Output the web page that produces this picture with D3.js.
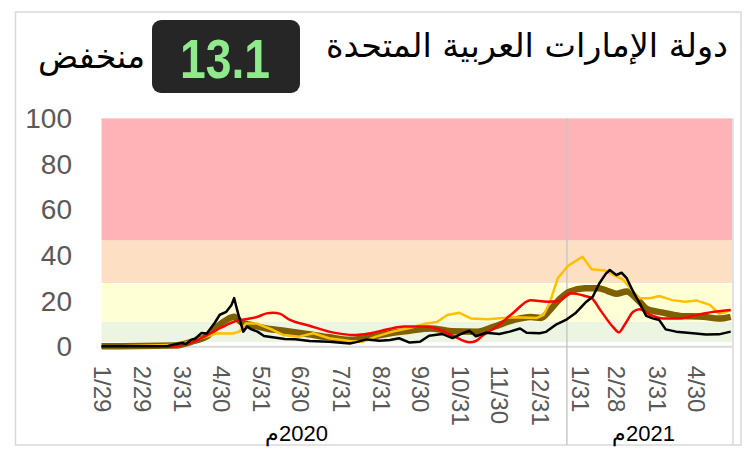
<!DOCTYPE html>
<html>
<head>
<meta charset="utf-8">
<script src="https://cdn.jsdelivr.net/npm/d3@7"></script>
<style>
	body { margin: 0; background: #fff; }
	svg { display: block; }
</style>
</head>
<body>
<div id="chart"></div>
<script>
(function (){
	"use strict";

// DATA
var title = "دولة الإمارات العربية  المتحدة",
	levelText = "منخفض",
	currentValue = "13.1";

var yTicks = [0, 20, 40, 60, 80, 100];
var tickDates = ["2020-01-29", "2020-02-29", "2020-03-31", "2020-04-30", "2020-05-31", "2020-06-30",
	"2020-07-31", "2020-08-31", "2020-09-30", "2020-10-31", "2020-11-30", "2020-12-31",
	"2021-01-31", "2021-02-28", "2021-03-31", "2021-04-30"];
var yearLabels = ["2020م", "2021م"],
	yearLabelDates = ["2020-06-27", "2021-03-21"],
	yearSplit = "2021-01-21";
var dateRange = ["2020-01-29", "2021-05-28"];

// risk bands [from, to]
var bands = [[2, 11], [11, 27.4], [27.9, 46.6], [46.6, 100]];

var blackSeries = [["2020-01-29",0.2],["2020-03-20",0.3],["2020-03-25",1.0],["2020-03-31",1.6],["2020-04-03",1.2],
	["2020-04-07",3.0],["2020-04-10",3.5],["2020-04-15",6.0],["2020-04-19",5.8],["2020-04-21",7.3],["2020-04-25",10.4],
	["2020-04-29",14.0],["2020-05-04",15.3],["2020-05-08",18.3],["2020-05-10",21.3],["2020-05-13",14.7],["2020-05-17",6.6],
	["2020-05-20",8.8],["2020-05-23",7.7],["2020-05-28",6.6],["2020-06-02",4.7],["2020-06-10",4.0],["2020-06-18",3.4],
	["2020-06-26",3.3],["2020-07-07",2.5],["2020-07-22",2.2],["2020-08-07",1.4],["2020-08-12",2.0],["2020-08-20",3.2],
	["2020-08-30",2.6],["2020-09-07",2.9],["2020-09-14",3.7],["2020-09-22",1.8],["2020-09-30",2.2],["2020-10-07",4.8],
	["2020-10-17",5.6],["2020-10-25",3.8],["2020-11-02",5.9],["2020-11-07",7.0],["2020-11-12",4.6],["2020-11-20",6.1],
	["2020-11-30",5.6],["2020-12-08",6.6],["2020-12-16",8.0],["2020-12-21",6.1],["2020-12-31",5.9],["2021-01-05",6.5],
	["2021-01-13",9.8],["2021-01-21",12.0],["2021-01-28",14.9],["2021-02-05",19.7],["2021-02-10",22.0],["2021-02-15",27.8],
	["2021-02-20",32.0],["2021-02-23",33.6],["2021-02-28",31.4],["2021-03-04",32.4],["2021-03-08",30.0],["2021-03-13",24.1],
	["2021-03-18",19.0],["2021-03-23",13.5],["2021-03-28",12.4],["2021-04-02",11.7],["2021-04-07",7.6],["2021-04-15",6.6],
	["2021-04-28",5.9],["2021-05-08",5.3],["2021-05-18",5.4],["2021-05-27",6.6]];

var redSeries = [["2020-01-29",0],["2020-03-22",0],["2020-04-09",2.2],["2020-04-17",4.4],["2020-04-24",6.6],["2020-05-04",9.5],
	["2020-05-12",11.4],["2020-05-20",12.1],["2020-05-28",13.1],["2020-06-04",14.6],["2020-06-09",14.9],["2020-06-14",14.5],
	["2020-06-22",11.7],["2020-07-07",9.2],["2020-07-22",6.6],["2020-08-12",5.1],["2020-08-23",5.9],["2020-09-05",7.6],
	["2020-09-18",8.8],["2020-10-03",8.8],["2020-10-16",7.3],["2020-10-26",4.6],["2020-11-07",1.9],["2020-11-12",2.5],
	["2020-11-17",4.8],["2020-11-28",8.8],["2020-12-11",15.0],["2020-12-24",20.4],["2021-01-06",19.7],["2021-01-14",19.9],
	["2021-01-24",23.4],["2021-02-04",22.2],["2021-02-09",21.3],["2021-02-16",15.8],["2021-02-26",8.3],["2021-03-02",6.3],
	["2021-03-07",10.2],["2021-03-13",15.3],["2021-03-18",16.4],["2021-03-26",14.0],["2021-04-05",12.4],["2021-04-18",12.4],
	["2021-05-01",13.9],["2021-05-14",15.3],["2021-05-27",16.1]];

var goldSeries = [["2020-01-29",0],["2020-03-28",0.8],["2020-04-09",2.9],["2020-04-19",4.4],["2020-04-27",5.9],["2020-05-09",5.8],
	["2020-05-14",6.6],["2020-05-19",10.2],["2020-05-27",10.2],["2020-06-09",7.3],["2020-06-17",5.1],["2020-06-29",4.4],
	["2020-07-10",5.9],["2020-07-22",3.7],["2020-08-07",2.5],["2020-08-17",2.2],["2020-08-27",4.4],["2020-09-09",6.6],
	["2020-09-22",8.2],["2020-10-05",10.2],["2020-10-13",10.8],["2020-10-21",13.9],["2020-10-30",14.9],["2020-11-08",12.4],
	["2020-11-21",12.0],["2020-12-11",12.9],["2020-12-29",12.6],["2021-01-03",13.9],["2021-01-08",19.5],["2021-01-14",30.0],
	["2021-01-22",35.5],["2021-01-31",38.7],["2021-02-02",39.4],["2021-02-09",33.9],["2021-02-19",33.4],["2021-02-26",31.4],
	["2021-03-05",29.5],["2021-03-13",24.1],["2021-03-18",21.2],["2021-03-26",21.2],["2021-04-02",22.2],["2021-04-12",20.4],
	["2021-04-22",19.7],["2021-05-01",20.2],["2021-05-11",18.3],["2021-05-18",14.5],["2021-05-23",15.0],["2021-05-27",16.1]];

var oliveSeries = [["2020-01-29",0.2],["2020-03-25",0.5],["2020-04-09",2.5],["2020-04-19",4.5],["2020-04-24",7.3],["2020-05-04",11.7],
	["2020-05-10",13.1],["2020-05-16",10.5],["2020-05-23",9.5],["2020-06-04",8.0],["2020-06-20",6.8],["2020-07-05",5.6],
	["2020-07-22",4.1],["2020-08-07",3.0],["2020-08-23",4.2],["2020-09-07",5.9],["2020-09-22",7.0],["2020-10-08",8.0],
	["2020-10-24",6.8],["2020-11-13",6.6],["2020-11-26",8.8],["2020-12-11",11.7],["2020-12-24",13.0],["2021-01-01",12.6],
	["2021-01-08",16.1],["2021-01-16",21.2],["2021-01-23",24.1],["2021-02-04",25.6],["2021-02-14",25.6],["2021-02-21",24.5],
	["2021-02-28",23.2],["2021-03-08",24.2],["2021-03-16",20.8],["2021-03-24",16.4],["2021-04-05",14.9],["2021-04-18",13.5],
	["2021-05-06",13.1],["2021-05-18",12.3],["2021-05-27",13.1]];

var bandColors = ["#ebf5e1", "#ffffd5", "#fde0c4", "#ffb3b6"];

var width = 747,
	height = 465,
	plotL = 101.5,
	plotR = 732,
	plotT = 118.4,
	plotB = 346.7;

var parse = d3.timeParse("%Y-%m-%d"),
	fmt = d3.timeFormat("%-m/%-d");

var svg = d3.select("#chart").append("svg")
	.attr("width", width)
	.attr("height", height);

var x = d3.scaleTime()
	.domain(dateRange.map(parse))
	.range([plotL, plotR]);
var y = d3.scaleLinear()
	.domain([0, 100])
	.range([plotB, plotT]);

// outer frame
svg.append("rect")
	.attr("x", 15.5).attr("y", 12)
	.attr("width", 725.5).attr("height", 433)
	.attr("fill", "none")
	.attr("stroke", "#d9d9d9")
	.attr("stroke-width", 1.5);

// HEADER
svg.append("text")
	.attr("x", 728).attr("y", 45)
	.attr("direction", "rtl")
	.attr("text-anchor", "start")
	.attr("dominant-baseline", "central")
	.attr("textLength", 402)
	.attr("lengthAdjust", "spacingAndGlyphs")
	.style("font-family", "'DejaVu Sans', sans-serif")
	.style("font-size", "33px")
	.attr("fill", "#000")
	.text(title);

svg.append("rect")
	.attr("x", 152).attr("y", 20)
	.attr("width", 148).attr("height", 73)
	.attr("rx", 9)
	.attr("fill", "#262626");

svg.append("text")
	.attr("x", 180).attr("y", 58)
	.attr("dominant-baseline", "central")
	.attr("textLength", 90)
	.attr("lengthAdjust", "spacingAndGlyphs")
	.style("font-family", "'Liberation Sans', Arial, sans-serif")
	.style("font-weight", "bold")
	.style("font-size", "56px")
	.attr("fill", "#90e98c")
	.text(currentValue);

svg.append("text")
	.attr("x", 145).attr("y", 56)
	.attr("direction", "rtl")
	.attr("text-anchor", "start")
	.attr("dominant-baseline", "central")
	.attr("textLength", 107)
	.attr("lengthAdjust", "spacingAndGlyphs")
	.style("font-family", "'DejaVu Sans', sans-serif")
	.style("font-size", "33px")
	.attr("fill", "#000")
	.text(levelText);

// BANDS
svg.append("g").selectAll("rect").data(bands)
	.enter().append("rect")
		.attr("x", plotL)
		.attr("width", plotR - plotL)
		.attr("y", function(d){ return y(d[1]); })
		.attr("height", function(d){ return y(d[0]) - y(d[1]); })
		.attr("fill", function(d, i){ return bandColors[i]; });

// grid lines
svg.append("line")
	.attr("x1", plotL).attr("x2", plotR)
	.attr("y1", plotB).attr("y2", plotB)
	.attr("stroke", "#d9d9d9").attr("stroke-width", 2);
svg.append("line")
	.attr("x1", x(parse(yearSplit))).attr("x2", x(parse(yearSplit)))
	.attr("y1", plotT).attr("y2", 445)
	.attr("stroke", "#c8c8c8").attr("stroke-width", 1.5);
svg.append("line")
	.attr("x1", plotR + 1).attr("x2", plotR + 1)
	.attr("y1", plotT).attr("y2", 445)
	.attr("stroke", "#d9d9d9").attr("stroke-width", 1.5);

// Y AXIS
var yAxis = svg.append("g")
	.attr("transform", "translate(72,0)")
	.call(d3.axisLeft(y).tickValues(yTicks).tickSize(0).tickPadding(0));
yAxis.select(".domain").remove();
yAxis.selectAll("text")
	.style("font-family", "'Liberation Sans', Arial, sans-serif")
	.style("font-size", "28px")
	.attr("fill", "#595959");

// X AXIS labels (rotated)
var xAxis = svg.append("g")
	.attr("transform", "translate(0," + plotB + ")")
	.call(d3.axisBottom(x).tickValues(tickDates.map(parse)).tickFormat(fmt).tickSize(0));
xAxis.select(".domain").remove();
xAxis.selectAll("text")
	.attr("transform", "translate(0,19) rotate(90)")
	.attr("x", 0).attr("y", 0).attr("dy", "0.35em")
	.attr("text-anchor", "start")
	.style("font-family", "'Liberation Sans', Arial, sans-serif")
	.style("font-size", "24px")
	.attr("fill", "#595959");

svg.append("g").selectAll("text").data(yearLabels)
	.enter().append("text")
		.attr("x", function(d, i){ return x(parse(yearLabelDates[i])); })
		.attr("y", 441)
		.attr("direction", "rtl")
		.attr("text-anchor", "middle")
		.style("font-family", "'Liberation Sans', Arial, sans-serif")
		.style("font-size", "22px")
		.attr("fill", "#000")
		.text(function(d){ return d; });

// LINES
var smooth = d3.line()
	.x(function(d){ return x(parse(d[0])); })
	.y(function(d){ return y(d[1]); })
	.curve(d3.curveMonotoneX);
var jagged = d3.line()
	.x(function(d){ return x(parse(d[0])); })
	.y(function(d){ return y(d[1]); });

var lines = [
	{data: oliveSeries, gen: smooth, color: "#7f6000", w: 6.5},
	{data: goldSeries, gen: jagged, color: "#ffc000", w: 2.5},
	{data: redSeries, gen: smooth, color: "#ff0000", w: 2.5},
	{data: blackSeries, gen: jagged, color: "#000000", w: 2.5}
];

svg.append("g").selectAll("path").data(lines)
	.enter().append("path")
		.attr("d", function(d){ return d.gen(d.data); })
		.attr("fill", "none")
		.attr("stroke", function(d){ return d.color; })
		.attr("stroke-width", function(d){ return d.w; })
		.attr("stroke-linejoin", "round");

})();
</script>
</body>
</html>
